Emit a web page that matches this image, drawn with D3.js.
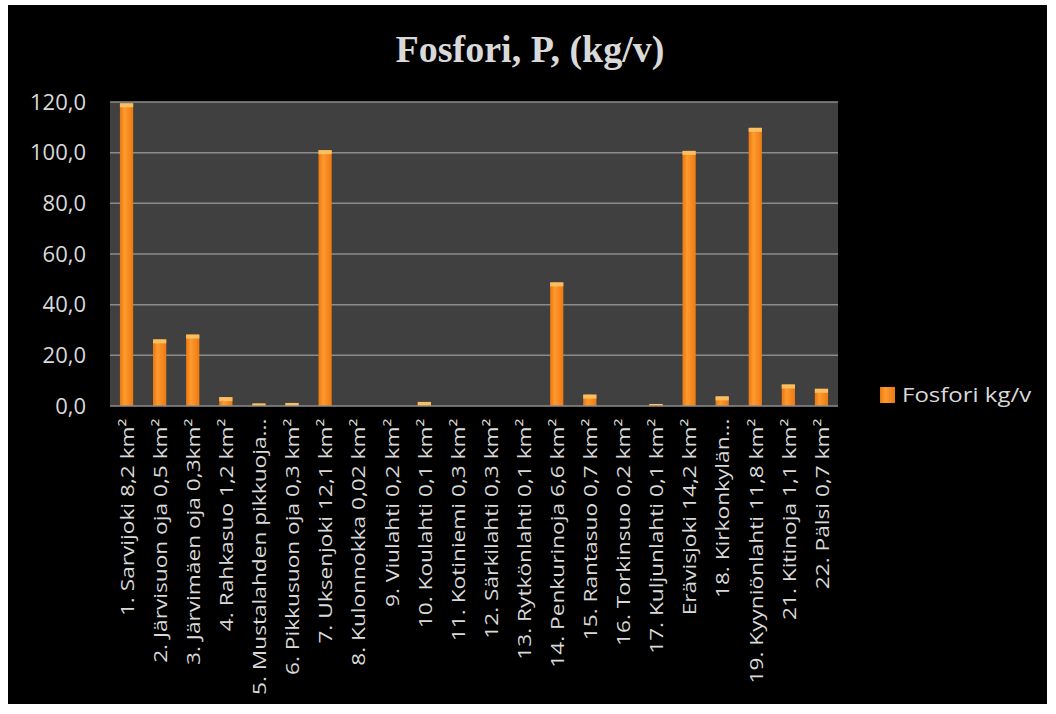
<!doctype html>
<html>
  <head>
    <meta charset="utf-8">
    <script src="https://cdn.jsdelivr.net/npm/d3@7/dist/d3.min.js"></script>
    <style>
      body { margin: 0; background: #fff; }
      svg { display: block; }
      text { font-family: "Open Sans", sans-serif; fill: #d9d9d9; }
    </style>
  </head>
  <body>
    <div id="chart"></div>
    <script>
      // categories (x axis labels)
      var categories = [
        "1. Sarvijoki 8,2 km²",
        "2. Järvisuon oja 0,5 km²",
        "3. Järvimäen oja 0,3km²",
        "4. Rahkasuo 1,2 km²",
        "5. Mustalahden pikkuoja...",
        "6. Pikkusuon oja 0,3 km²",
        "7. Uksenjoki 12,1 km²",
        "8. Kulonnokka 0,02 km²",
        "9. Viulahti 0,2 km²",
        "10. Koulahti 0,1 km²",
        "11. Kotiniemi 0,3 km²",
        "12. Särkilahti 0,3 km²",
        "13. Rytkönlahti 0,1 km²",
        "14. Penkurinoja 6,6 km²",
        "15. Rantasuo 0,7 km²",
        "16. Torkinsuo 0,2 km²",
        "17. Kuljunlahti 0,1 km²",
        "Erävisjoki 14,2 km²",
        "18. Kirkonkylän...",
        "19. Kyyniönlahti 11,8 km²",
        "21. Kitinoja 1,1 km²",
        "22. Pälsi 0,7 km²"
      ];

      // Fosfori kg/v
      var fosfori = [119.5, 26.3, 28.2, 3.5, 1.0, 1.2, 101.0, 0, 0, 1.6, 0, 0, 0,
                     48.8, 4.5, 0, 0.8, 100.7, 3.8, 109.8, 8.5, 6.8];

      var yTicks = [0, 20, 40, 60, 80, 100, 120];
      var seriesName = "Fosfori kg/v";
      var title = "Fosfori, P, (kg/v)";

      var W = 1056, H = 714;
      var plot = {left: 110, right: 838, top: 102, bottom: 406};

      var svg = d3.select("#chart").append("svg")
        .attr("width", W).attr("height", H);

      // black chart area inside white border
      svg.append("rect")
        .attr("x", 8).attr("y", 5)
        .attr("width", 1039).attr("height", 699)
        .attr("fill", "#000");

      var defs = svg.append("defs");
      var grad = defs.append("linearGradient")
        .attr("id", "barGrad").attr("x1", "0").attr("x2", "1").attr("y1", "0").attr("y2", "0");
      grad.append("stop").attr("offset", "0%").attr("stop-color", "#e8780f");
      grad.append("stop").attr("offset", "35%").attr("stop-color", "#ff9a2e");
      grad.append("stop").attr("offset", "100%").attr("stop-color", "#ec7a12");

      var x = d3.scaleBand()
        .domain(categories)
        .range([plot.left, plot.right])
        .paddingInner(0.6)
        .paddingOuter(0.3);

      var y = d3.scaleLinear()
        .domain([0, 120])
        .range([plot.bottom, plot.top]);

      // plot background
      svg.append("rect")
        .attr("x", plot.left).attr("y", plot.top)
        .attr("width", plot.right - plot.left)
        .attr("height", plot.bottom - plot.top)
        .attr("fill", "#404040");

      // gridlines
      svg.append("g")
        .selectAll("line")
        .data(yTicks.filter(function(d) { return d > 0; }))
        .enter().append("line")
        .attr("x1", plot.left).attr("x2", plot.right)
        .attr("y1", function(d) { return y(d); })
        .attr("y2", function(d) { return y(d); })
        .attr("stroke", "#8c8c8c")
        .attr("stroke-width", 1.5);

      // y axis
      var yAxis = d3.axisLeft(y)
        .tickValues(yTicks)
        .tickSize(0)
        .tickPadding(24)
        .tickFormat(function(d) { return d3.format(".1f")(d).replace(".", ","); });
      var gy = svg.append("g")
        .attr("transform", "translate(" + plot.left + ",0)")
        .call(yAxis);
      gy.select(".domain").remove();
      gy.selectAll("text")
        .style("font-size", "22px")
        .attr("fill", "#d9d9d9");

      // bars
      var bars = svg.append("g");
      bars.selectAll("rect.bar")
        .data(fosfori)
        .enter().append("rect")
        .attr("class", "bar")
        .attr("x", function(d, i) { return x(categories[i]); })
        .attr("y", function(d) { return y(d); })
        .attr("width", x.bandwidth())
        .attr("height", function(d) { return y(0) - y(d); })
        .attr("fill", "url(#barGrad)");

      // light top cap on each bar
      bars.selectAll("rect.cap")
        .data(fosfori)
        .enter().append("rect")
        .attr("class", "cap")
        .attr("x", function(d, i) { return x(categories[i]); })
        .attr("y", function(d) { return y(d); })
        .attr("width", x.bandwidth())
        .attr("height", function(d) { return Math.min(4, y(0) - y(d)); })
        .attr("fill", "#f9c46a")
        .attr("opacity", function(d) { return d > 0 ? 0.9 : 0; });

      // x axis line
      svg.append("line")
        .attr("x1", plot.left).attr("x2", plot.right)
        .attr("y1", plot.bottom).attr("y2", plot.bottom)
        .attr("stroke", "#8c8c8c")
        .attr("stroke-width", 1.5);

      // x axis labels (stretched along the text like the original)
      var xAxis = d3.axisBottom(x).tickSize(0).tickPadding(0);
      var gx = svg.append("g")
        .attr("transform", "translate(0," + plot.bottom + ")")
        .call(xAxis);
      gx.select(".domain").remove();
      gx.selectAll("text")
        .style("font-size", "18px")
        .attr("fill", "#d9d9d9")
        .attr("text-anchor", "end")
        .attr("transform", "rotate(-90) scale(1.26,1)")
        .attr("x", -10)
        .attr("y", 1)
        .attr("dy", "0.35em");

      // title
      svg.append("text")
        .attr("x", 530).attr("y", 62)
        .attr("text-anchor", "middle")
        .style("font-family", "'Liberation Serif', serif")
        .style("font-weight", "bold")
        .style("font-size", "38px")
        .attr("fill", "#f2f2f2")
        .text(title);

      // legend
      var legend = svg.append("g").attr("transform", "translate(880,387)");
      legend.append("rect")
        .attr("width", 15).attr("height", 16)
        .attr("fill", "url(#barGrad)");
      legend.append("text")
        .attr("transform", "translate(22,8) scale(1.2,1)")
        .attr("dy", "0.35em")
        .style("font-size", "20px")
        .attr("fill", "#d9d9d9")
        .text(seriesName);
    </script>
  </body>
</html>
